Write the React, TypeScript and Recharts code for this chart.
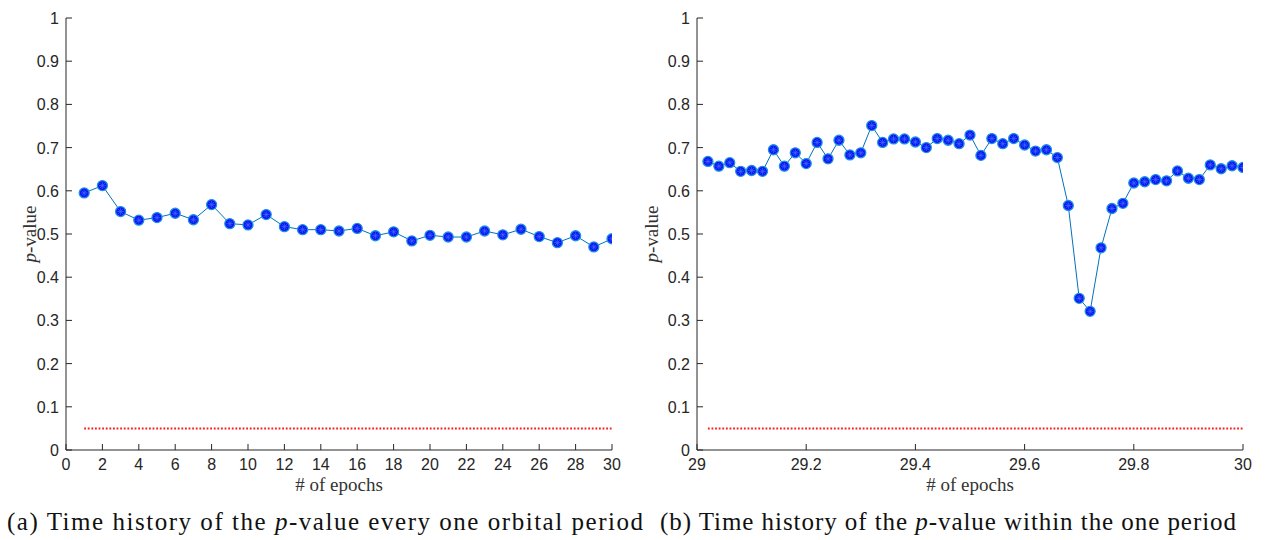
import React from 'react';
import { LineChart, Line, XAxis, YAxis, ReferenceLine, Label } from 'recharts';

// (a) p-value sampled once per orbital period
const orbitEpochs = [1, 2, 3, 4, 5, 6, 7, 8, 9, 10, 11, 12, 13, 14, 15, 16, 17, 18, 19, 20, 21, 22, 23, 24, 25, 26, 27, 28, 29, 30];
const orbitPValues = [
  0.595, 0.612, 0.552, 0.532, 0.538, 0.548, 0.533, 0.568, 0.524, 0.521,
  0.545, 0.517, 0.510, 0.510, 0.507, 0.513, 0.496, 0.505, 0.484, 0.497,
  0.493, 0.493, 0.507, 0.498, 0.511, 0.494, 0.480, 0.496, 0.470, 0.489,
];

// (b) p-value sampled within the last period
const periodEpochs = [
  29.02, 29.04, 29.06, 29.08, 29.1, 29.12, 29.14, 29.16, 29.18, 29.2,
  29.22, 29.24, 29.26, 29.28, 29.3, 29.32, 29.34, 29.36, 29.38, 29.4,
  29.42, 29.44, 29.46, 29.48, 29.5, 29.52, 29.54, 29.56, 29.58, 29.6,
  29.62, 29.64, 29.66, 29.68, 29.7, 29.72, 29.74, 29.76, 29.78, 29.8,
  29.82, 29.84, 29.86, 29.88, 29.9, 29.92, 29.94, 29.96, 29.98, 30.0,
];
const periodPValues = [
  0.668, 0.657, 0.665, 0.645, 0.647, 0.645, 0.695, 0.657, 0.688, 0.663,
  0.712, 0.674, 0.717, 0.683, 0.688, 0.751, 0.712, 0.720, 0.720, 0.713,
  0.700, 0.721, 0.717, 0.709, 0.729, 0.682, 0.721, 0.709, 0.721, 0.706,
  0.692, 0.695, 0.677, 0.566, 0.351, 0.321, 0.468, 0.559, 0.571, 0.618,
  0.621, 0.626, 0.623, 0.646, 0.629, 0.626, 0.660, 0.651, 0.658, 0.654,
];

const yTicks = [0, 0.1, 0.2, 0.3, 0.4, 0.5, 0.6, 0.7, 0.8, 0.9, 1];
const orbitXTicks = [0, 2, 4, 6, 8, 10, 12, 14, 16, 18, 20, 22, 24, 26, 28, 30];
const periodXTicks = [29, 29.2, 29.4, 29.6, 29.8, 30];
const significanceLevel = 0.05;

const xAxisTitle = '# of epochs';
const captionA = { pre: '(a) Time history of the ', italic: 'p', post: '-value every one orbital period' };
const captionB = { pre: '(b) Time history of the ', italic: 'p', post: '-value within the one period' };

const AXIS_COLOR = '#262626';
const TICK_FONT = "'Liberation Sans', Arial, sans-serif";
const SERIF_FONT = "'Liberation Serif', 'DejaVu Serif', serif";
const TICK_LEN = 6;

const YTick = (props: any) => {
  const { x, y, payload } = props;
  return (
    <g>
      <line x1={x} y1={y} x2={x + TICK_LEN} y2={y} stroke={AXIS_COLOR} strokeWidth={1} />
      <text x={x - 7} y={y + 6} textAnchor="end" style={{ fontFamily: TICK_FONT, fontSize: 16 }} fill={AXIS_COLOR}>
        {String(payload.value)}
      </text>
    </g>
  );
};

const XTick = (props: any) => {
  const { x, y, payload } = props;
  return (
    <g>
      <line x1={x} y1={y} x2={x} y2={y - TICK_LEN} stroke={AXIS_COLOR} strokeWidth={1} />
      <text x={x} y={y + 20} textAnchor="middle" style={{ fontFamily: TICK_FONT, fontSize: 16 }} fill={AXIS_COLOR}>
        {String(payload.value)}
      </text>
    </g>
  );
};

// filled circle with a star drawn over it
const StarDot = (props: any) => {
  const { cx, cy, index } = props;
  if (cx == null || cy == null) return <g key={`d-${index}`} />;
  const a = 3.4;
  const d = 2.4;
  return (
    <g key={`d-${index}`}>
      <circle cx={cx} cy={cy} r={5} fill="#0a14f2" stroke="#1f8fe6" strokeWidth={1.3} />
      <path
        d={`M${cx - a},${cy}H${cx + a}M${cx},${cy - a}V${cy + a}M${cx - d},${cy - d}L${cx + d},${cy + d}M${cx - d},${cy + d}L${cx + d},${cy - d}`}
        stroke="#3d6cff"
        strokeWidth={0.7}
      />
    </g>
  );
};

type PanelProps = {
  width: number;
  plotLeft: number;
  plotRight: number;
  epochs: number[];
  values: number[];
  xDomain: [number, number];
  xTicks: number[];
  yLabelX: number;
};

const PValuePanel = ({ width, plotLeft, plotRight, epochs, values, xDomain, xTicks, yLabelX }: PanelProps) => {
  const data = epochs.map((x, i) => ({ x, p: values[i] }));
  const first = epochs[0];
  const last = epochs[epochs.length - 1];
  return (
    <LineChart
      width={width}
      height={500}
      data={data}
      margin={{ top: 18, right: width - plotRight, bottom: 0, left: 0 }}
    >
      <XAxis
        dataKey="x"
        type="number"
        domain={xDomain}
        ticks={xTicks}
        interval={0}
        allowDataOverflow
        height={50}
        tickLine={false}
        tickSize={0}
        tickMargin={0}
        tick={<XTick />}
        axisLine={{ stroke: AXIS_COLOR, strokeWidth: 1 }}
      >
        <Label
          content={(lp: any) => {
            const vb = lp.viewBox || { x: plotLeft, y: 450, width: plotRight - plotLeft, height: 50 };
            return (
              <text
                x={vb.x + vb.width / 2}
                y={vb.y + 41}
                textAnchor="middle"
                style={{ fontFamily: SERIF_FONT, fontSize: 19 }}
                fill="#333"
              >
                {xAxisTitle}
              </text>
            );
          }}
        />
      </XAxis>
      <YAxis
        type="number"
        domain={[0, 1]}
        ticks={yTicks}
        interval={0}
        width={plotLeft}
        tickLine={false}
        tickSize={0}
        tickMargin={0}
        tick={<YTick />}
        axisLine={{ stroke: AXIS_COLOR, strokeWidth: 1 }}
      >
        <Label
          content={(lp: any) => {
            const vb = lp.viewBox || { x: 0, y: 18, width: plotLeft, height: 432 };
            const cx = vb.x + yLabelX;
            const cy = vb.y + vb.height / 2;
            return (
              <text
                x={cx}
                y={cy}
                transform={`rotate(-90 ${cx} ${cy})`}
                textAnchor="middle"
                dominantBaseline="central"
                style={{ fontFamily: SERIF_FONT, fontSize: 19 }}
                fill="#333"
              >
                <tspan fontStyle="italic">p</tspan>
                <tspan>-value</tspan>
              </text>
            );
          }}
        />
      </YAxis>
      <ReferenceLine
        segment={[
          { x: first, y: significanceLevel },
          { x: last, y: significanceLevel },
        ]}
        stroke="#ff1a1a"
        strokeWidth={2}
        strokeDasharray="1.8 1.8"
      />
      <Line
        dataKey="p"
        type="linear"
        stroke="#0072BD"
        strokeWidth={1}
        dot={StarDot}
        activeDot={false}
        isAnimationActive={false}
      />
    </LineChart>
  );
};

const Caption = ({ x, length, parts }: { x: number; length: number; parts: typeof captionA }) => (
  <text
    x={x}
    y={30}
    textLength={length}
    lengthAdjust="spacing"
    style={{ fontFamily: SERIF_FONT, fontSize: 25 }}
    fill="#111"
  >
    {parts.pre}
    <tspan fontStyle="italic">{parts.italic}</tspan>
    {parts.post}
  </text>
);

export default function App() {
  return (
    <div style={{ position: 'absolute', left: 0, top: 0, width: 1265, height: 540, background: '#fff' }}>
      <div style={{ position: 'absolute', left: 0, top: 0 }}>
        <PValuePanel
          width={640}
          plotLeft={66}
          plotRight={612}
          epochs={orbitEpochs}
          values={orbitPValues}
          xDomain={[0, 30]}
          xTicks={orbitXTicks}
          yLabelX={29}
        />
      </div>
      <div style={{ position: 'absolute', left: 640, top: 0 }}>
        <PValuePanel
          width={625}
          plotLeft={57}
          plotRight={603}
          epochs={periodEpochs}
          values={periodPValues}
          xDomain={[29, 30]}
          xTicks={periodXTicks}
          yLabelX={11}
        />
      </div>
      <svg style={{ position: 'absolute', left: 0, top: 500 }} width={1265} height={40}>
        <Caption x={7} length={636} parts={captionA} />
        <Caption x={660} length={576} parts={captionB} />
      </svg>
    </div>
  );
}
